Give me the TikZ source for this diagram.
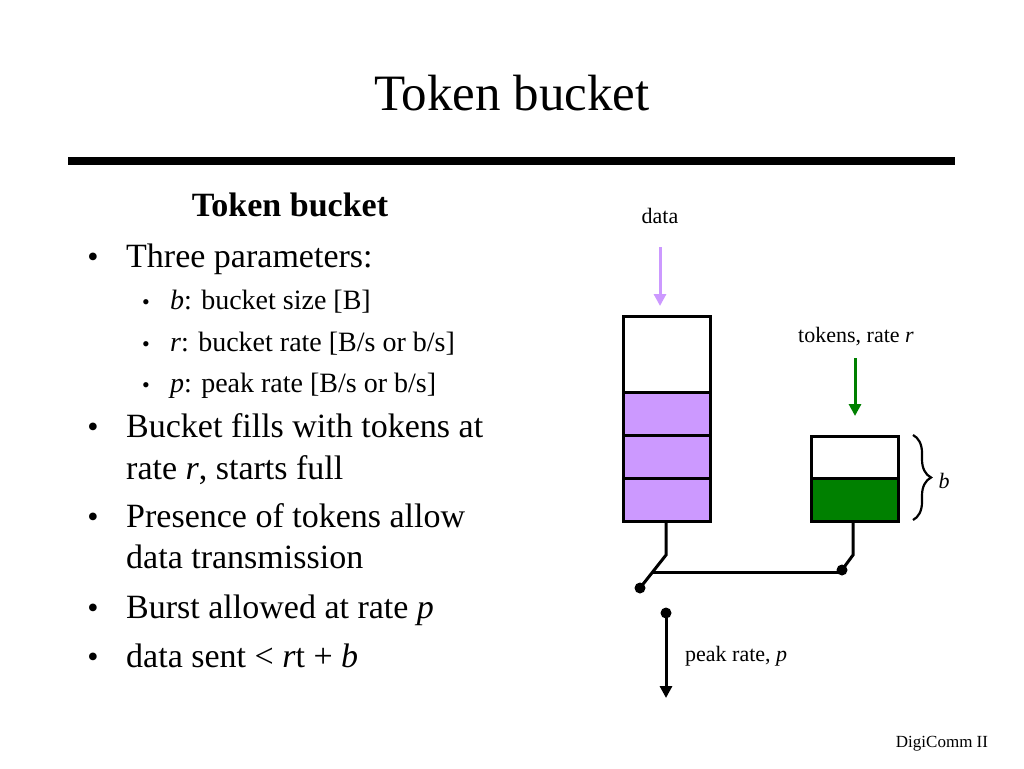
\documentclass[tikz,border=0pt]{standalone}
\usepackage{fontspec}
\setmainfont{Liberation Serif}
\usetikzlibrary{decorations.pathreplacing,arrows.meta,calc}
\definecolor{lavender}{HTML}{CC99FF}
\definecolor{tokgreen}{HTML}{008000}
\begin{document}
\begin{tikzpicture}[x=1pt,y=-1pt,
  txt/.style={anchor=base west,inner sep=0pt,font=\fontsize{34}{40}\selectfont},
  subtxt/.style={anchor=base west,inner sep=0pt,font=\fontsize{28}{34}\selectfont},
  bul/.style={anchor=base,inner sep=0pt,font=\fontsize{32}{34}\selectfont},
  subbul/.style={anchor=base,inner sep=0pt,font=\fontsize{22}{26}\selectfont},
  lbl/.style={inner sep=0pt,font=\fontsize{22}{26}\selectfont},
  box/.style={draw=black,line width=3pt,inner sep=0pt,minimum width=87pt,anchor=north west},
  wire/.style={line width=3pt,line cap=round},
  dot/.style={circle,fill=black,inner sep=0pt,minimum size=11pt},
  arr/.style={line width=3pt,-{Triangle[length=12pt,width=12pt]}}]
\useasboundingbox (0,0) rectangle (1024,768);
% title and rule
\node[anchor=base,inner sep=0pt,font=\fontsize{51}{58}\selectfont] (title) at (512,110) {Token bucket};
\coordinate (rl) at (68,161);
\coordinate (rr) at (955,161);
\draw[line width=8pt] (rl) -- (rr);
% left text
\node[anchor=base,inner sep=0pt,font=\bfseries\fontsize{34}{40}\selectfont] (head) at (290,216) {Token bucket};
\node[bul] (b1) at (93,267) {\textbullet};
\node[txt] (t1) at (126,267) {Three parameters:};
\node[subbul] (s1) at (146,309) {\textbullet};
\node[subtxt] (u1) at (170,309) {\textit{b}: bucket size [B]};
\node[subbul] (s2) at (146,351) {\textbullet};
\node[subtxt] (u2) at (170,351) {\textit{r}: bucket rate [B/s or b/s]};
\node[subbul] (s3) at (146,392) {\textbullet};
\node[subtxt] (u3) at (170,392) {\textit{p}: peak rate [B/s or b/s]};
\node[bul] (b2) at (93,437) {\textbullet};
\node[txt] (t2) at (126,437) {Bucket fills with tokens at};
\node[txt] (t2b) at (126,479) {rate \textit{r}, starts full};
\node[bul] (b3) at (93,527) {\textbullet};
\node[txt] (t3) at (126,527) {Presence of tokens allow};
\node[txt] (t3b) at (126,568) {data transmission};
\node[bul] (b4) at (93,618) {\textbullet};
\node[txt] (t4) at (126,618) {Burst allowed at rate \textit{p}};
\node[bul] (b5) at (93,667) {\textbullet};
\node[txt] (t5) at (126,667) {data sent < \textit{r}t + \textit{b}};
% footer
\node[anchor=base,inner sep=0pt,font=\fontsize{17}{20}\selectfont] (foot) at (942,747) {DigiComm II};
% data bucket
\fill[lavender] (622,392) rectangle (709,520);
\node[box,minimum height=205pt] (dbucket) at (622,315) {};
\draw[line width=3pt] (622,392) -- (709,392);
\draw[line width=3pt] (622,435) -- (709,435);
\draw[line width=3pt] (622,478) -- (709,478);
% token bucket
\fill[tokgreen] (810,478) rectangle (897,520);
\node[box,minimum height=85pt] (tbucket) at (810,435) {};
\draw[line width=3pt] (810,478) -- (897,478);
% labels and input arrows
\node[lbl,anchor=base] (datalbl) at (660,223) {data};
\coordinate (datain) at (660,247);
\draw[arr,draw=lavender] (datain) -- ($(dbucket.north west)+(38,-9)$);
\node[lbl,anchor=base] (toklbl) at (856,342) {tokens, rate \textit{r}};
\coordinate (tokin) at (855,358);
\draw[arr,draw=tokgreen] (tokin) -- ($(tbucket.north west)+(45,-19)$);
% brace
\draw[line width=2.2pt,decorate,decoration={brace,amplitude=18pt}] (913,435) -- (913,520);
\node[lbl,anchor=base] (blbl) at (944,488) {\textit{b}};
% switches
\coordinate (lk) at (666,555);
\coordinate (rk) at (853,555);
\node[dot] (ldot) at (640,588) {};
\node[dot] (rdot) at (842,570) {};
\coordinate (hj) at (652.5,572);
\draw[wire] (dbucket.south -| lk) -- (lk) -- (ldot.center);
\draw[wire] (tbucket.south -| rk) -- (rk) -- (rdot.center);
\draw[wire] (hj) -- (rdot.center |- hj);
% output
\node[dot] (odot) at (666,613) {};
\coordinate (oend) at (666,698);
\draw[arr] (odot.center) -- (oend);
\node[lbl,anchor=base west] (plbl) at (685,661) {peak rate, \textit{p}};
\end{tikzpicture}
\end{document}
